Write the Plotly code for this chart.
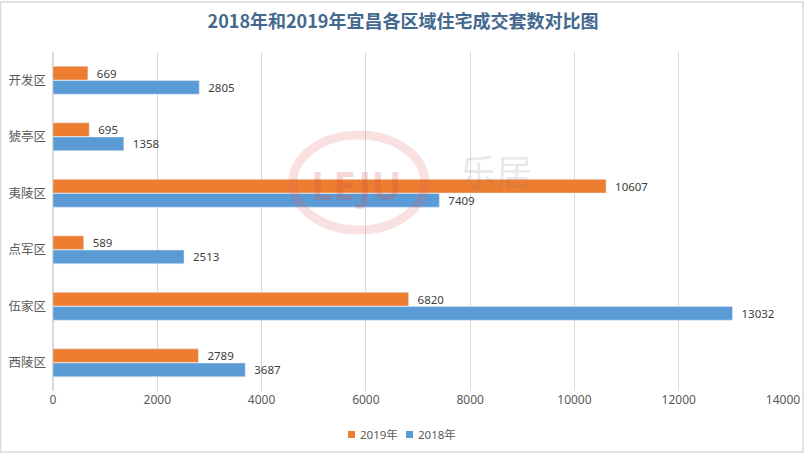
import plotly.graph_objects as go

districts = ['开发区', '猇亭区', '夷陵区', '点军区', '伍家区', '西陵区']
sales_2019 = [669, 695, 10607, 589, 6820, 2789]
sales_2018 = [2805, 1358, 7409, 2513, 13032, 3687]
x_ticks = [0, 2000, 4000, 6000, 8000, 10000, 12000, 14000]
series_names = ['2019年', '2018年']
series_colors = ['#ed7d31', '#5b9bd5']

# plot area in page pixels: x 53..783, y 52..391
PW, PH = 730, 339


def px(x):
    return (x - 53) / PW


def py(y):
    return (391 - y) / PH


label_font = dict(family='Noto Sans, Noto Sans CJK SC', size=11.5, color='#404040')
pad = '\u00a0\u00a0'

fig = go.Figure()
for name, vals, col in zip(series_names, [sales_2019, sales_2018], series_colors):
    fig.add_trace(go.Bar(
        name=name, y=districts, x=vals, orientation='h',
        marker=dict(color=col),
        text=[pad + str(v) for v in vals], textposition='outside',
        textfont=label_font, cliponaxis=False, constraintext='none'
    ))

# faint LEJU watermark
fig.add_shape(type='circle', xref='x', yref='y',
              x0=4600, x1=7130, y0=0.97, y1=2.65,
              line=dict(color='rgba(225,90,90,0.18)', width=9),
              fillcolor='rgba(0,0,0,0)', layer='above')
fig.add_annotation(x=5830, y=1.85, xref='x', yref='y', text='<b>LEJU</b>',
                   showarrow=False,
                   font=dict(family='Noto Sans', size=40, color='rgba(220,70,70,0.22)'))
fig.add_annotation(x=8500, y=1.58, xref='x', yref='y', text='乐居',
                   showarrow=False,
                   font=dict(family='Noto Sans CJK SC', size=36, color='rgba(120,120,120,0.18)'))

# outer chart border
fig.add_shape(type='rect', xref='paper', yref='paper',
              x0=px(0.5), x1=px(803), y0=py(452), y1=py(2),
              line=dict(color='#d9d9d9', width=1.5))

# compact legend (small squares close to text)
leg_x = [348, 406]
for name, col, lx in zip(series_names, series_colors, leg_x):
    fig.add_shape(type='rect', xref='paper', yref='paper',
                  x0=px(lx), x1=px(lx + 7), y0=py(438), y1=py(431),
                  line=dict(width=0), fillcolor=col)
    fig.add_annotation(x=px(lx + 10), y=py(434.5), xref='paper', yref='paper',
                       text=name, showarrow=False, xanchor='left', yanchor='middle',
                       font=dict(family='Noto Sans, Noto Sans CJK SC', size=11.5, color='#595959'))

fig.update_layout(
    width=806, height=456,
    margin=dict(l=53, r=23, t=52, b=65),
    title=dict(text='<b>2018年和2019年宜昌各区域住宅成交套数对比图</b>',
               x=0.5, xanchor='center', y=0.952, yanchor='middle',
               font=dict(family='Noto Sans CJK SC', size=18, color='#44698f')),
    barmode='group', bargap=0.5, bargroupgap=0.03,
    plot_bgcolor='white', paper_bgcolor='white',
    xaxis=dict(range=[0, 14000], tickvals=x_ticks, ticktext=[str(t) for t in x_ticks],
               showgrid=True, automargin=False,
               gridcolor='#d9d9d9', zeroline=True, zerolinecolor='#d9d9d9',
               tickfont=dict(family='Noto Sans', size=12, color='#595959')),
    yaxis=dict(autorange='reversed', showgrid=False, ticks='', automargin=False,
               ticklabelstandoff=6,
               tickfont=dict(family='Noto Sans CJK SC', size=12.5, color='#595959')),
    showlegend=False,
)

fig.write_html('out.html', config={'displayModeBar': False},
               post_script="document.body.style.margin='0px';")
